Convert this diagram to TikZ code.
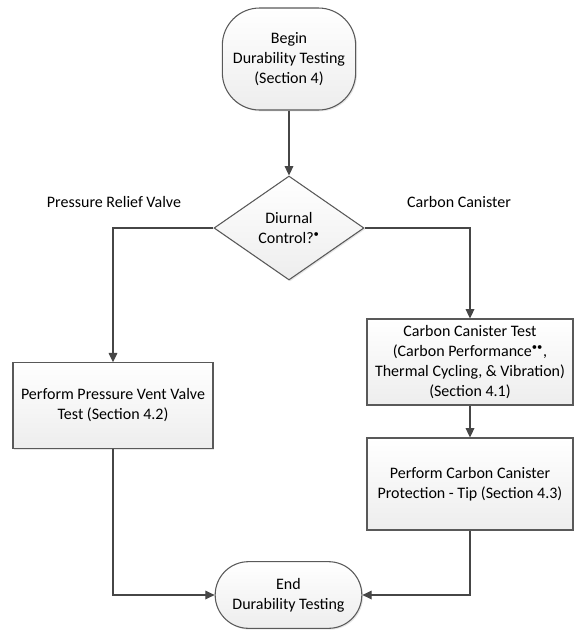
\documentclass[tikz,border=0pt]{standalone}
\usepackage{fontspec}
\setmainfont{Carlito}
\usetikzlibrary{arrows.meta,shapes.geometric,shadows}
\begin{document}
\begin{tikzpicture}[x=0.75pt, y=-0.75pt,
        font=\fontsize{12}{15}\selectfont,
        B/.style={draw=gray!70!black, line width=0.8pt, top color=white, bottom color=gray!14,
            drop shadow={opacity=0.2, shadow xshift=1pt, shadow yshift=-1pt}, align=center, inner sep=2pt},
        T/.style={B, rounded corners=28pt},
        P/.style={B, minimum width=154.5pt},
        D/.style={B, diamond, aspect=1.44, minimum width=112.5pt, minimum height=78pt, inner sep=0pt},
        A/.style={draw=gray!55!black, line width=0.9pt, -{Triangle[length=7pt, width=6.5pt]}}
      ]
      \useasboundingbox (0,0) rectangle (574,633);
      \node [T, minimum width=100pt, minimum height=76.5pt] (begin) at (289,59) {Begin\\Durability Testing\\(Section 4)};
      \node [D] (dc) at (289,228) {Diurnal\\Control?\textsuperscript{•}};
      \node (prv) at (114,202) {Pressure Relief Valve};
      \node (can) at (459,202) {Carbon Canister};
      \node [P, minimum width=150pt, minimum height=64pt] (pv) at (113,405.5) {Perform Pressure Vent Valve\\Test (Section 4.2)};
      \node [P, minimum height=64.5pt] (cc) at (470,362) {Carbon Canister Test\\(Carbon Performance\textsuperscript{••},\\Thermal Cycling, \& Vibration)\\(Section 4.1)};
      \node [P, minimum height=69pt] (tip) at (470,484) {Perform Carbon Canister\\Protection - Tip (Section 4.3)};
      \node [T, minimum width=110pt, minimum height=50pt, rounded corners=25pt] (end) at (288.5,595) {End\\Durability Testing};
      \draw [A] (begin) -- (dc);
      \draw [A] (dc.west) -| (pv.north);
      \draw [A] (dc.east) -| (cc.north);
      \draw [A] (cc) -- (tip);
      \draw [A] (pv.south) |- (end.west);
      \draw [A] (tip.south) |- (end.east);
\end{tikzpicture}
\end{document}
